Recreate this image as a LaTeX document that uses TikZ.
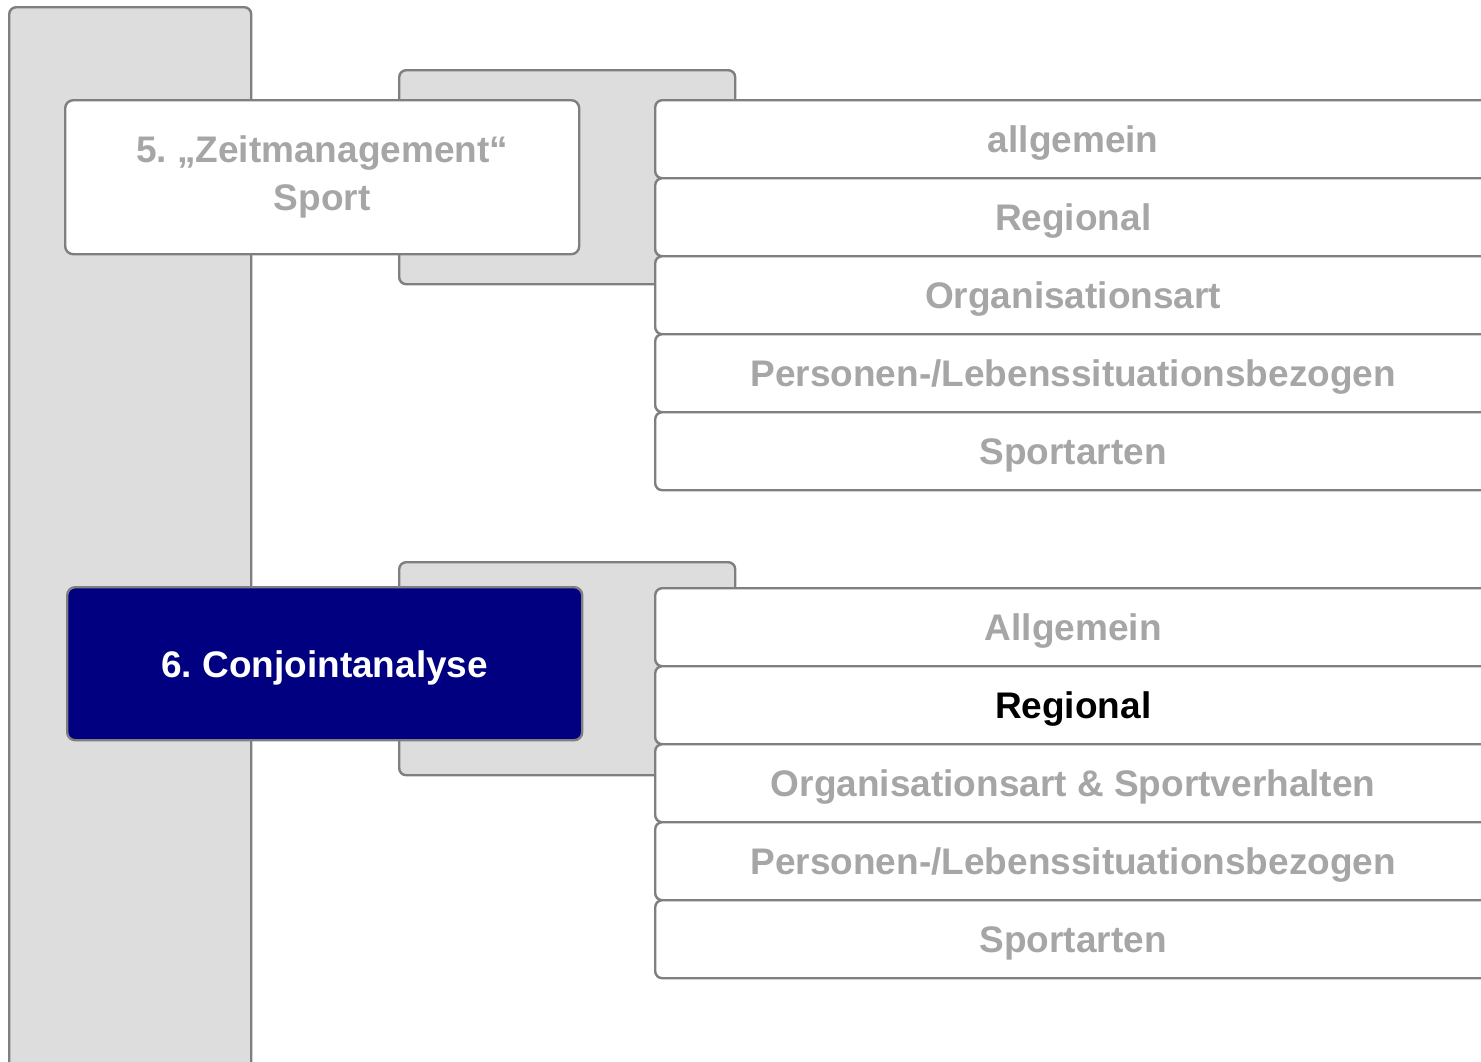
\documentclass[tikz,border=0pt]{standalone}
\usepackage{fontspec}
\setmainfont{Liberation Sans}
\definecolor{edge}{HTML}{7F7F7F}
\definecolor{backfill}{HTML}{DDDDDD}
\definecolor{dimtext}{HTML}{A6A6A6}
\definecolor{navyfill}{HTML}{000080}
\begin{document}
\frenchspacing
\begin{tikzpicture}[x=1pt,y=-1pt,
  every node/.style={inner sep=0pt,font=\fontsize{37}{48}\selectfont\bfseries\frenchspacing},
  backbox/.style={draw=edge,line width=2.4pt,fill=backfill,rounded corners=7pt,anchor=north west},
  mainbox/.style={draw=edge,line width=2.4pt,fill=white,rounded corners=8pt,anchor=north west,text=dimtext,align=center},
  itembox/.style={draw=edge,line width=2.4pt,fill=white,rounded corners=7pt,anchor=north west,
    minimum width=836pt,minimum height=78pt,text=dimtext,text height=27pt,text depth=0pt}]
\useasboundingbox (0,0) rectangle (1481,1061);
\clip (0,0) rectangle (1481,1061);
% left column
\node[backbox,minimum width=242pt,minimum height=1070pt] (col) at (8,6) {};
% group 5
\node[backbox,minimum width=336pt,minimum height=214pt] (back5) at (398,69) {};
\node[mainbox,minimum width=514pt,minimum height=154pt] (z5) at (64,99) {\raisebox{-2pt}{5. „Zeitmanagement“}\\\raisebox{-2pt}{Sport}};
\node[itembox] (a1) at (654,99) {allgemein};
\node[itembox] (a2) at (654,177) {Regional};
\node[itembox] (a3) at (654,255) {Organisationsart};
\node[itembox] (a4) at (654,333) {Personen-/Lebenssituationsbezogen};
\node[itembox] (a5) at (654,411) {Sportarten};
% group 6
\node[backbox,minimum width=336pt,minimum height=213pt] (back6) at (398,561) {};
\node[mainbox,fill=navyfill,text=white,minimum width=515pt,minimum height=153pt,text height=27pt,text depth=0pt] (c6) at (66,586) {6. Conjointanalyse};
\node[itembox] (b1) at (654,587) {Allgemein};
\node[itembox,text=black] (b2) at (654,665) {Regional};
\node[itembox] (b3) at (654,743) {Organisationsart \& Sportverhalten};
\node[itembox] (b4) at (654,821) {Personen-/Lebenssituationsbezogen};
\node[itembox] (b5) at (654,899) {Sportarten};
\end{tikzpicture}
\end{document}
